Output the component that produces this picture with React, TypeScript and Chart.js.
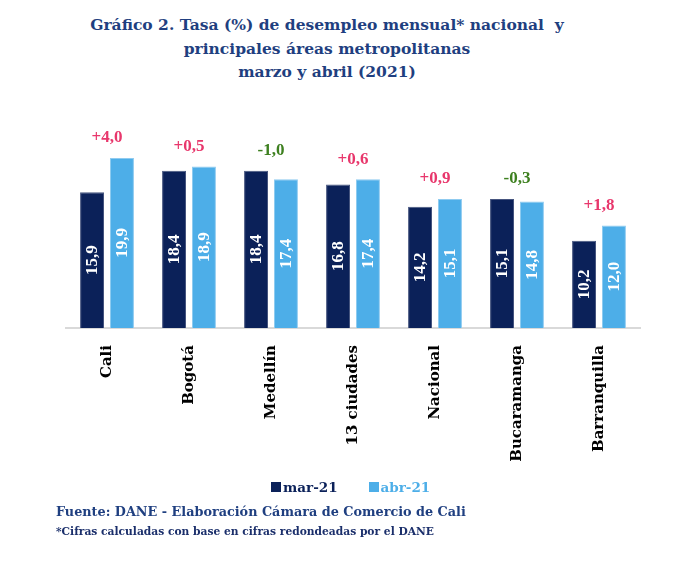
import React, { useEffect, useRef } from 'react';
import { Chart, registerables } from 'chart.js';

Chart.register(...registerables);

const categories = ['Cali', 'Bogotá', 'Medellín', '13 ciudades', 'Nacional', 'Bucaramanga', 'Barranquilla'];
const mar21 = [15.9, 18.4, 18.4, 16.8, 14.2, 15.1, 10.2];
const abr21 = [19.9, 18.9, 17.4, 17.4, 15.1, 14.8, 12.0];
const seriesNames = ['mar-21', 'abr-21'];
const titleLines = [
  'Gráfico 2. Tasa (%) de desempleo mensual* nacional  y',
  'principales áreas metropolitanas',
  'marzo y abril (2021)',
];
const sourceText = 'Fuente: DANE - Elaboración Cámara de Comercio de Cali';
const noteText = '*Cifras calculadas con base en cifras redondeadas por el DANE';

const NAVY = '#0B2159';
const LIGHT = '#4DAEE8';
const TITLE_BLUE = '#1F3F80';
const UP = '#E8376C';
const DOWN = '#3E8020';
const SERIF = '"DejaVu Serif", "Liberation Serif", serif';
const NUM_SERIF = '"Liberation Serif", "Times New Roman", serif';

const fmt = (v: number) => v.toFixed(1).replace('.', ',');

const labelPlugin = {
  id: 'valueLabels',
  afterDatasetsDraw(chart: any) {
    const ctx = chart.ctx;
    ctx.save();
    ctx.font = `bold 17px ${NUM_SERIF}`;
    ctx.fillStyle = '#FFFFFF';
    ctx.textAlign = 'center';
    ctx.textBaseline = 'middle';
    chart.data.datasets.forEach((ds: any, di: number) => {
      const meta = chart.getDatasetMeta(di);
      meta.data.forEach((bar: any, i: number) => {
        const cy = (bar.y + bar.base) / 2;
        ctx.save();
        ctx.translate(bar.x, cy);
        ctx.rotate(-Math.PI / 2);
        ctx.fillText(fmt(ds.data[i]), 0, 1);
        ctx.restore();
      });
    });
    const m0 = chart.getDatasetMeta(0);
    const m1 = chart.getDatasetMeta(1);
    ctx.font = `bold 17px ${NUM_SERIF}`;
    categories.forEach((_, i) => {
      const b0 = m0.data[i];
      const b1 = m1.data[i];
      const diff = abr21[i] - mar21[i];
      const txt = (diff >= 0 ? '+' : '-') + fmt(Math.abs(diff));
      ctx.fillStyle = diff >= 0 ? UP : DOWN;
      const cx = (b0.x + b1.x) / 2;
      const top = Math.min(b0.y, b1.y);
      ctx.fillText(txt, cx, top - 20);
    });
    ctx.restore();
  },
};

export default function App() {
  const ref = useRef<HTMLCanvasElement>(null);
  useEffect(() => {
    if (!ref.current) return;
    const chart = new Chart(ref.current, {
      type: 'bar',
      data: {
        labels: categories,
        datasets: [
          {
            label: seriesNames[0],
            data: mar21,
            backgroundColor: NAVY,
            borderColor: '#46557F',
            borderWidth: 1,
            barPercentage: 0.8,
            categoryPercentage: 0.73,
          },
          {
            label: seriesNames[1],
            data: abr21,
            backgroundColor: LIGHT,
            borderColor: '#8FCBF0',
            borderWidth: 1,
            barPercentage: 0.8,
            categoryPercentage: 0.73,
          },
        ],
      },
      options: {
        responsive: false,
        animation: false,
        layout: { padding: { top: 132, left: 58, right: 38, bottom: 0 } },
        plugins: {
          legend: { display: false },
          title: { display: false },
          tooltip: { enabled: false },
        },
        scales: {
          x: {
            grid: { display: false, drawTicks: false },
            border: { display: true, color: '#D9D9D9', width: 2 },
            ticks: {
              color: '#000000',
              font: { family: SERIF, weight: 'bold', size: 15 },
              minRotation: 90,
              maxRotation: 90,
              padding: 17,
              autoSkip: false,
            },
            afterFit: (scale: any) => {
              scale.height = 150;
            },
          },
          y: { display: false, min: 0, max: 22 },
        },
      },
      plugins: [labelPlugin],
    });
    return () => chart.destroy();
  }, []);

  return (
    <div style={{ position: 'relative', width: 670, height: 554, fontFamily: SERIF }}>
      <div
        style={{
          position: 'absolute',
          top: 5,
          left: 0,
          width: 638,
          textAlign: 'center',
          color: TITLE_BLUE,
          fontWeight: 'bold',
          fontSize: 15.5,
          lineHeight: '23.5px',
          whiteSpace: 'pre',
        }}
      >
        {titleLines.map((t, i) => (
          <div key={i}>{t}</div>
        ))}
      </div>
      <canvas ref={ref} width={670} height={470} style={{ position: 'absolute', top: 0, left: 0, display: 'block' }} />
      <div
        style={{
          position: 'absolute',
          top: 469,
          left: 263,
          display: 'flex',
          alignItems: 'center',
          fontWeight: 'bold',
          fontSize: 13.5,
          lineHeight: '20px',
        }}
      >
        <span style={{ display: 'inline-block', width: 10, height: 10, background: NAVY, marginRight: 2 }} />
        <span style={{ color: NAVY, marginRight: 31 }}>{seriesNames[0]}</span>
        <span style={{ display: 'inline-block', width: 10, height: 10, background: LIGHT, marginRight: 2 }} />
        <span style={{ color: LIGHT }}>{seriesNames[1]}</span>
      </div>
      <div
        style={{
          position: 'absolute',
          top: 494,
          left: 48,
          color: TITLE_BLUE,
          fontWeight: 'bold',
          fontSize: 12.8,
          lineHeight: '20px',
          whiteSpace: 'nowrap',
        }}
      >
        {sourceText}
      </div>
      <div
        style={{
          position: 'absolute',
          top: 516,
          left: 48,
          color: '#1B2F6B',
          fontWeight: 'bold',
          fontSize: 10.7,
          lineHeight: '16px',
          whiteSpace: 'nowrap',
        }}
      >
        {noteText}
      </div>
    </div>
  );
}
